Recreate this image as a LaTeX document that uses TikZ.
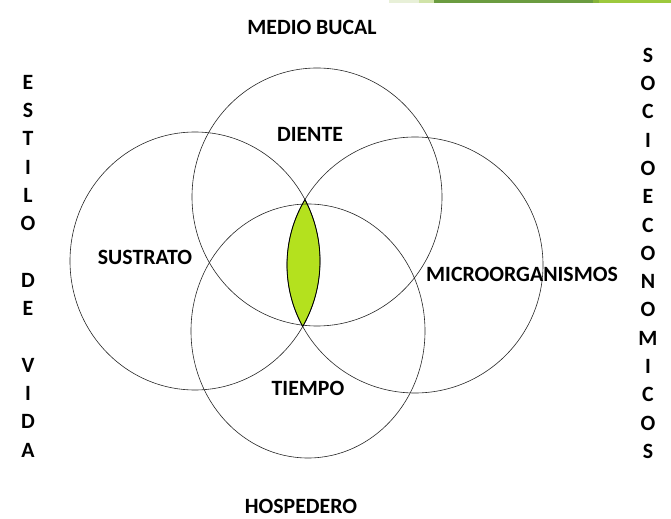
\documentclass[tikz,border=0pt]{standalone}
\usepackage{fontspec}
\setmainfont{Carlito}
\usepackage{tikz}
\usetikzlibrary{calc}
\definecolor{verdeLente}{RGB}{180,225,30}
\definecolor{verdeUno}{RGB}{232,240,216}
\definecolor{verdeDue}{RGB}{208,227,168}
\definecolor{verdeTre}{RGB}{107,156,64}
\definecolor{verdeQuattro}{RGB}{134,179,58}
\definecolor{verdeCinque}{RGB}{157,201,61}

\begin{document}
\begin{tikzpicture}[x = 1bp, y = -1bp,
    etichetta/.style = {font = \fontsize{21.8bp}{28.3bp}\selectfont\bfseries, inner sep = 0pt},
    cerchio/.style = {black!85, line width = 0.6bp}]
    \useasboundingbox (0,0) rectangle (671,519);

    % Barra verde in alto
    \fill[verdeUno] (389,0) rectangle (419,3);
    \fill[verdeDue] (419,0) rectangle (434,3);
    \fill[verdeTre] (434,0) rectangle (593,3);
    \fill[verdeQuattro] (593,0) rectangle (599,3);
    \fill[verdeCinque] (599,0) rectangle (671,3);

    % Centri dei cerchi
    \coordinate (Sustrato) at (195,261);
    \coordinate (Diente) at (317,197);
    \coordinate (Micro) at (415,265);
    \coordinate (Tiempo) at (308,331);

    % Lente verde (sustrato e microorganismi)
    \begin{scope}
        \clip (Sustrato) ellipse [x radius = 125, y radius = 129];
        \fill[verdeLente] (Micro) circle [radius = 128];
    \end{scope}

    % Cerchi
    \draw[cerchio] (Sustrato) ellipse [x radius = 125, y radius = 129];
    \draw[cerchio] (Diente) ellipse [x radius = 125, y radius = 129];
    \draw[cerchio] (Micro) circle [radius = 128];
    \draw[cerchio] (Tiempo) ellipse [x radius = 117, y radius = 127];

    % Bordo della lente
    \begin{scope}
        \clip (Sustrato) ellipse [x radius = 125, y radius = 129];
        \draw[black, line width = 0.8bp] (Micro) circle [radius = 128];
    \end{scope}
    \begin{scope}
        \clip (Micro) circle [radius = 128];
        \draw[black, line width = 0.8bp] (Sustrato) ellipse [x radius = 125, y radius = 129];
    \end{scope}

    % Etichette dei cerchi
    \node[etichetta] (diente) at (310,134) {DIENTE};
    \node[etichetta] (sustrato) at (145,257) {SUSTRATO};
    \node[etichetta] (micro) at (522,274) {MICROORGANISMOS};
    \node[etichetta] (tiempo) at (308,388) {TIEMPO};

    % Etichette esterne
    \node[etichetta] (medio) at (312,27) {MEDIO BUCAL};
    \node[etichetta] (hospedero) at (301,506) {HOSPEDERO};
    \node[etichetta, align = center] (estilo) at (28,266) {E\\S\\T\\I\\L\\O\\[28.3bp]D\\E\\[28.3bp]V\\I\\D\\A};
    \node[etichetta, align = center] (socio) at (648,253.3) {S\\O\\C\\I\\O\\E\\C\\O\\N\\O\\M\\I\\C\\O\\S};
\end{tikzpicture}
\end{document}
